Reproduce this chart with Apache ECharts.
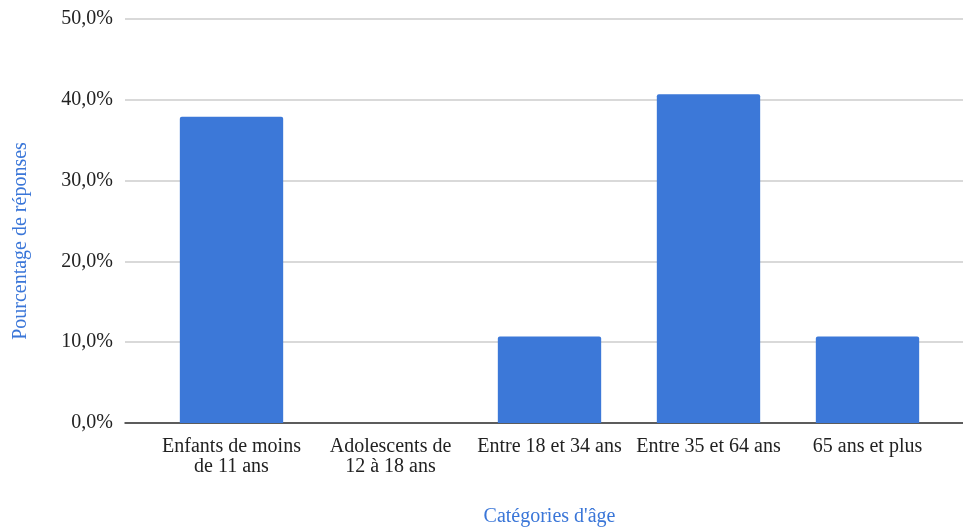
<!DOCTYPE html>
<html>
<head>
<meta charset="utf-8">
<script src="https://cdn.jsdelivr.net/npm/echarts@6/dist/echarts.min.js"></script>
<style>
html,body{margin:0;padding:0;background:#fff;}
#chart{width:963px;height:527px;}
</style>
</head>
<body>
<div id="chart"></div>
<script>
const categories = ['Enfants de moins\nde 11 ans', 'Adolescents de\n12 à 18 ans', 'Entre 18 et 34 ans', 'Entre 35 et 64 ans', '65 ans et plus'];
const values = [37.9, 0, 10.7, 40.7, 10.7];
const yTicks = { min: 0, max: 50, interval: 10 };
const xTitle = "Catégories d'âge";
const yTitle = 'Pourcentage de réponses';

const FONT = '"Liberation Serif", "Times New Roman", serif';
const BLUE = '#3a76d8';

const chart = echarts.init(document.getElementById('chart'));
chart.setOption({
  animation: false,
  backgroundColor: '#fff',
  grid: [
    { left: 125, right: 0, top: 19, bottom: 104, containLabel: false, outerBoundsMode: 'none' },
    { left: 152, right: 16, top: 19, bottom: 104, containLabel: false, outerBoundsMode: 'none' }
  ],
  xAxis: [
    {
      gridIndex: 0, type: 'category', data: [''],
      axisLine: { show: true, lineStyle: { color: '#333', width: 1.5 } },
      axisTick: { show: false }, axisLabel: { show: false }
    },
    {
      gridIndex: 1, type: 'category', data: categories,
      axisLine: { show: false }, axisTick: { show: false },
      axisLabel: { interval: 0, margin: 14, fontFamily: FONT, fontSize: 20, lineHeight: 20, color: '#222' },
      name: xTitle, nameLocation: 'middle', nameGap: 84,
      nameTextStyle: { fontFamily: FONT, fontSize: 20, color: BLUE }
    }
  ],
  yAxis: [
    {
      gridIndex: 0, type: 'value', min: yTicks.min, max: yTicks.max, interval: yTicks.interval,
      axisLine: { show: false }, axisTick: { show: false },
      splitLine: { show: true, lineStyle: { color: '#cccccc', width: 1.5 } },
      axisLabel: { margin: 12, fontFamily: FONT, fontSize: 20, color: '#222',
        formatter: v => v.toFixed(1).replace('.', ',') + '%' },
      name: yTitle, nameLocation: 'middle', nameGap: 94,
      nameTextStyle: { fontFamily: FONT, fontSize: 20, color: BLUE, padding: [0, 40, 0, 0] }
    },
    {
      gridIndex: 1, type: 'value', min: yTicks.min, max: yTicks.max, interval: yTicks.interval,
      show: false, splitLine: { show: false }
    }
  ],
  series: [{
    type: 'bar', xAxisIndex: 1, yAxisIndex: 1, data: values,
    barCategoryGap: '35%',
    itemStyle: { color: '#3c78d8', borderRadius: [2, 2, 0, 0] }
  }]
});
</script>
</body>
</html>
